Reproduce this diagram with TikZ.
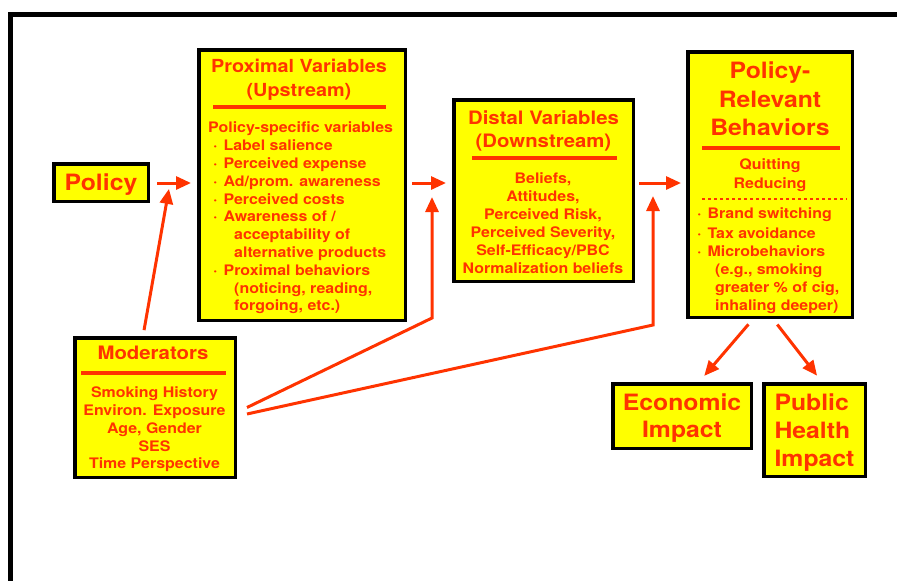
\documentclass[tikz,border=0pt]{standalone}
\usepackage{fontspec}
\setmainfont{TeX Gyre Heros}[FakeStretch=1.1]
\usetikzlibrary{arrows.meta}
\definecolor{ptYellow}{HTML}{FFFF00}
\definecolor{ptRed}{HTML}{FF3300}
\newcommand{\pbul}{\hspace*{5pt}\textperiodcentered\hspace{6pt}}
\newcommand{\pind}[1][26pt]{\hspace*{#1}}

\begin{document}
\begin{tikzpicture}[
  x=1pt,y=-1pt,
  >={Triangle[length=15pt,width=13pt]},
  box/.style={draw=black,line width=3.5pt,fill=ptYellow,inner sep=0pt},
  txt/.style={text=ptRed,inner sep=0pt,font=\bfseries\fontsize{14.5}{17.8}\selectfont},
  hd/.style={text=ptRed,inner sep=0pt,align=center,font=\bfseries\fontsize{18.5}{23.5}\selectfont},
  big/.style={text=ptRed,font=\bfseries\fontsize{22.5}{28}\selectfont},
  rule/.style={ptRed,line width=3.5pt},
  arr/.style={->,ptRed,line width=3pt}
]
  \useasboundingbox (0,0) rectangle (897,581);
  \draw[line width=5pt] (10.5,581) -- (10.5,14) -- (897,14);

  % boxes
  \node[box,big,text depth=0pt,minimum width=94.5pt,minimum height=37.5pt] (policy) at (101,182.5) {Policy};
  \node[box,minimum width=206.5pt,minimum height=270.5pt] (prox) at (302,185) {};
  \node[box,minimum width=179.5pt,minimum height=181.5pt] (dist) at (543.5,190.5) {};
  \node[box,minimum width=164.5pt,minimum height=265.5pt] (prb) at (770,184.5) {};
  \node[box,minimum width=160.5pt,minimum height=139.5pt] (mod) at (155,407.5) {};
  \node[box,big,align=center,text depth=0pt,minimum width=138.5pt,minimum height=64.5pt,
    font=\bfseries\fontsize{22.5}{27}\selectfont] (econ) at (682,416) {Economic\\Impact};
  \node[box,big,align=left,text depth=0pt,minimum width=101.5pt,minimum height=92.5pt] (pubh) at (814.5,430) {Public\\Health\\Impact};

  % proximal
  \node[hd,anchor=north,font=\bfseries\fontsize{18}{24}\selectfont] (proxhd) at (299,58.5) {Proximal Variables\\(Upstream)};
  \draw[rule] (213,107) -- (386,107);
  \node[txt,align=left,anchor=north west] (proxtxt) at (208,121.8) {Policy-specific variables\\
    \pbul Label salience\\ \pbul Perceived expense\\ \pbul Ad/prom. awareness\\
    \pbul Perceived costs\\ \pbul Awareness of /\\ \pind acceptability of\\
    \pind alternative products\\ \pbul Proximal behaviors\\ \pind (noticing, reading,\\
    \pind forgoing, etc.)};

  % distal
  \node[hd,anchor=north] (disthd) at (543.5,110.3) {Distal Variables\\(Downstream)};
  \draw[rule] (472,158) -- (617,158);
  \node[txt,align=center,anchor=north,font=\bfseries\fontsize{14.5}{18}\selectfont] (disttxt) at (543,172.8)
    {Beliefs,\\Attitudes,\\Perceived Risk,\\Perceived Severity,\\Self-Efficacy/PBC\\Normalization beliefs};

  % behaviors
  \node[big,inner sep=0pt,align=center,anchor=north,font=\bfseries\fontsize{22.5}{28.5}\selectfont] (prbhd) at (770,61.9)
    {Policy-\\Relevant\\Behaviors};
  \draw[rule] (702,148) -- (840,148);
  \node[txt,align=center,anchor=north,font=\bfseries\fontsize{14.5}{19}\selectfont] (prbq) at (770,158.8) {Quitting\\Reducing};
  \draw[ptRed,line width=2.5pt,dash pattern=on 3pt off 3pt] (702,199) -- (847,199);
  \node[txt,align=left,anchor=north west,font=\bfseries\fontsize{14.5}{18}\selectfont] (prbtxt) at (692,207.8)
    {\pbul Brand switching\\[2pt] \pbul Tax avoidance\\ \pbul Microbehaviors\\
    \pind[23pt](e.g., smoking\\ \pind[23pt]greater \% of cig,\\ \pind[23pt]inhaling deeper)};

  % moderators
  \node[hd,anchor=north] (modhd) at (153,346.3) {Moderators};
  \draw[rule] (81,373) -- (226,373);
  \node[txt,align=center,anchor=north,font=\bfseries\fontsize{14.5}{17.75}\selectfont] (modtxt) at (154.5,386.8)
    {Smoking History\\Environ. Exposure\\Age, Gender\\SES\\Time Perspective};

  % arrows
  \coordinate (row) at (0,183);
  \coordinate (pp) at (170,183);
  \coordinate (pd) at (432,183);
  \coordinate (pb) at (653,184);
  \coordinate (c1) at (432,318);
  \coordinate (c2) at (653,325);
  \draw[arr,shorten <=7pt,shorten >=6pt] (policy.east |- row) -- (prox.west |- row);
  \draw[arr,shorten <=5pt,shorten >=6pt] (prox.east |- row) -- (dist.west |- row);
  \draw[arr,shorten <=4pt,shorten >=5pt] (dist.east |- row) -- (prb.west |- row);
  \draw[arr,shorten <=6pt,shorten >=6pt] ([xshift=-12pt]mod.north) -- (pp);
  \draw[arr,shorten >=14pt] ([xshift=10pt]mod.east) -- (c1) -- (pd);
  \draw[arr,shorten >=12pt] ([xshift=10pt,yshift=-6.5pt]mod.east) -- (c2) -- (pb);
  \draw[arr,shorten <=7pt,shorten >=8pt] ([xshift=-17pt]prb.south) -- ([xshift=17pt]econ.north);
  \draw[arr,shorten <=7pt,shorten >=8pt] ([xshift=3pt]prb.south) -- ([xshift=7.5pt]pubh.north);
\end{tikzpicture}
\end{document}
